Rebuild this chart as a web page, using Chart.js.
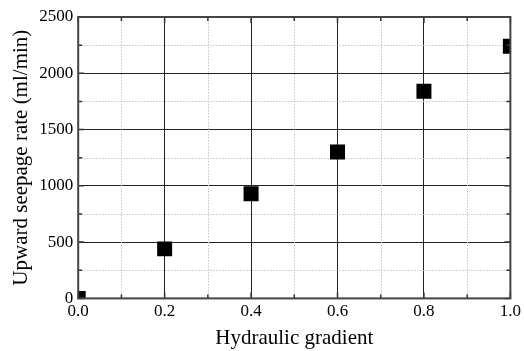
<!DOCTYPE html>
<html>
<head>
<meta charset="utf-8">
<script src="https://cdn.jsdelivr.net/npm/chart.js@4"></script>
<style>
  html, body { margin: 0; padding: 0; background: #fff; }
  #wrap { width: 524px; height: 351px; }
</style>
</head>
<body>
<div id="wrap"><canvas id="c" width="524" height="351"></canvas></div>
<script>
// Hydraulic gradient vs. upward seepage rate
const gradients = [0.0, 0.2, 0.4, 0.6, 0.8, 1.0];
const seepageRates = [0, 440, 930, 1300, 1840, 2240];
const xMinorTicks = [0.1, 0.3, 0.5, 0.7, 0.9];
const yMinorTicks = [250, 750, 1250, 1750, 2250];
const xMajorTicks = [0, 0.2, 0.4, 0.6, 0.8, 1.0];
const yMajorTicks = [0, 500, 1000, 1500, 2000, 2500];

const FONT = "'Liberation Serif', 'Times New Roman', serif";

// Dotted minor grid, inward tick marks and the closed frame
const framePlugin = {
  id: 'frame',
  beforeDatasetsDraw(chart) {
    const { ctx, chartArea: a, scales: { x, y } } = chart;
    ctx.save();
    ctx.strokeStyle = '#c4c4c4';
    ctx.lineWidth = 1;
    ctx.setLineDash([1.5, 1.5]);
    ctx.beginPath();
    xMinorTicks.forEach(v => {
      const px = Math.round(x.getPixelForValue(v)) + 0.5;
      ctx.moveTo(px, a.top); ctx.lineTo(px, a.bottom);
    });
    yMinorTicks.forEach(v => {
      const py = Math.round(y.getPixelForValue(v)) + 0.5;
      ctx.moveTo(a.left, py); ctx.lineTo(a.right, py);
    });
    ctx.stroke();
    ctx.restore();
  },
  afterDraw(chart) {
    const { ctx, chartArea: a, scales: { x, y } } = chart;
    ctx.save();
    ctx.strokeStyle = '#333';
    ctx.lineWidth = 1.5;
    ctx.beginPath();
    const tick = (vals, len) => vals.forEach(v => {
      const px = x.getPixelForValue(v);
      ctx.moveTo(px, a.bottom); ctx.lineTo(px, a.bottom - len);
      ctx.moveTo(px, a.top); ctx.lineTo(px, a.top + len);
    });
    tick(xMajorTicks, 6);
    tick(xMinorTicks, 4);
    const ytick = (vals, len) => vals.forEach(v => {
      const py = y.getPixelForValue(v);
      ctx.moveTo(a.left, py); ctx.lineTo(a.left + len, py);
      ctx.moveTo(a.right, py); ctx.lineTo(a.right - len, py);
    });
    ytick(yMajorTicks, 6);
    ytick(yMinorTicks, 4);
    ctx.stroke();
    ctx.strokeStyle = '#444';
    ctx.lineWidth = 2;
    ctx.strokeRect(a.left, a.top, a.right - a.left, a.bottom - a.top);
    ctx.restore();
  }
};

new Chart(document.getElementById('c'), {
  type: 'scatter',
  data: {
    datasets: [{
      data: gradients.map((g, i) => ({ x: g, y: seepageRates[i] })),
      pointStyle: 'rect',
      pointRadius: 10.6,
      pointHoverRadius: 10.6,
      backgroundColor: '#000',
      borderColor: '#000',
      borderWidth: 0,
      clip: 0
    }]
  },
  options: {
    responsive: false,
    animation: false,
    devicePixelRatio: 1,
    layout: { padding: { top: 17, right: 12, bottom: 0, left: 9 } },
    plugins: { legend: { display: false }, tooltip: { enabled: false } },
    scales: {
      x: {
        type: 'linear',
        min: 0, max: 1,
        ticks: {
          stepSize: 0.2,
          padding: 3,
          color: '#000',
          font: { family: FONT, size: 17 },
          callback: v => v.toFixed(1)
        },
        grid: { color: '#222', lineWidth: 1, drawTicks: false },
        border: { display: false },
        title: {
          display: true, text: 'Hydraulic gradient', color: '#000',
          font: { family: FONT, size: 21 }, padding: { top: 1, bottom: 0 }
        }
      },
      y: {
        type: 'linear',
        min: 0, max: 2500,
        ticks: {
          stepSize: 500,
          padding: 5,
          color: '#000',
          font: { family: FONT, size: 17 },
          callback: v => String(v)
        },
        grid: { color: '#222', lineWidth: 1, drawTicks: false },
        border: { display: false },
        title: {
          display: true, text: 'Upward seepage rate (ml/min)', color: '#000',
          font: { family: FONT, size: 21 }, padding: { top: 0, bottom: 0 }
        }
      }
    }
  },
  plugins: [framePlugin]
});
</script>
</body>
</html>
